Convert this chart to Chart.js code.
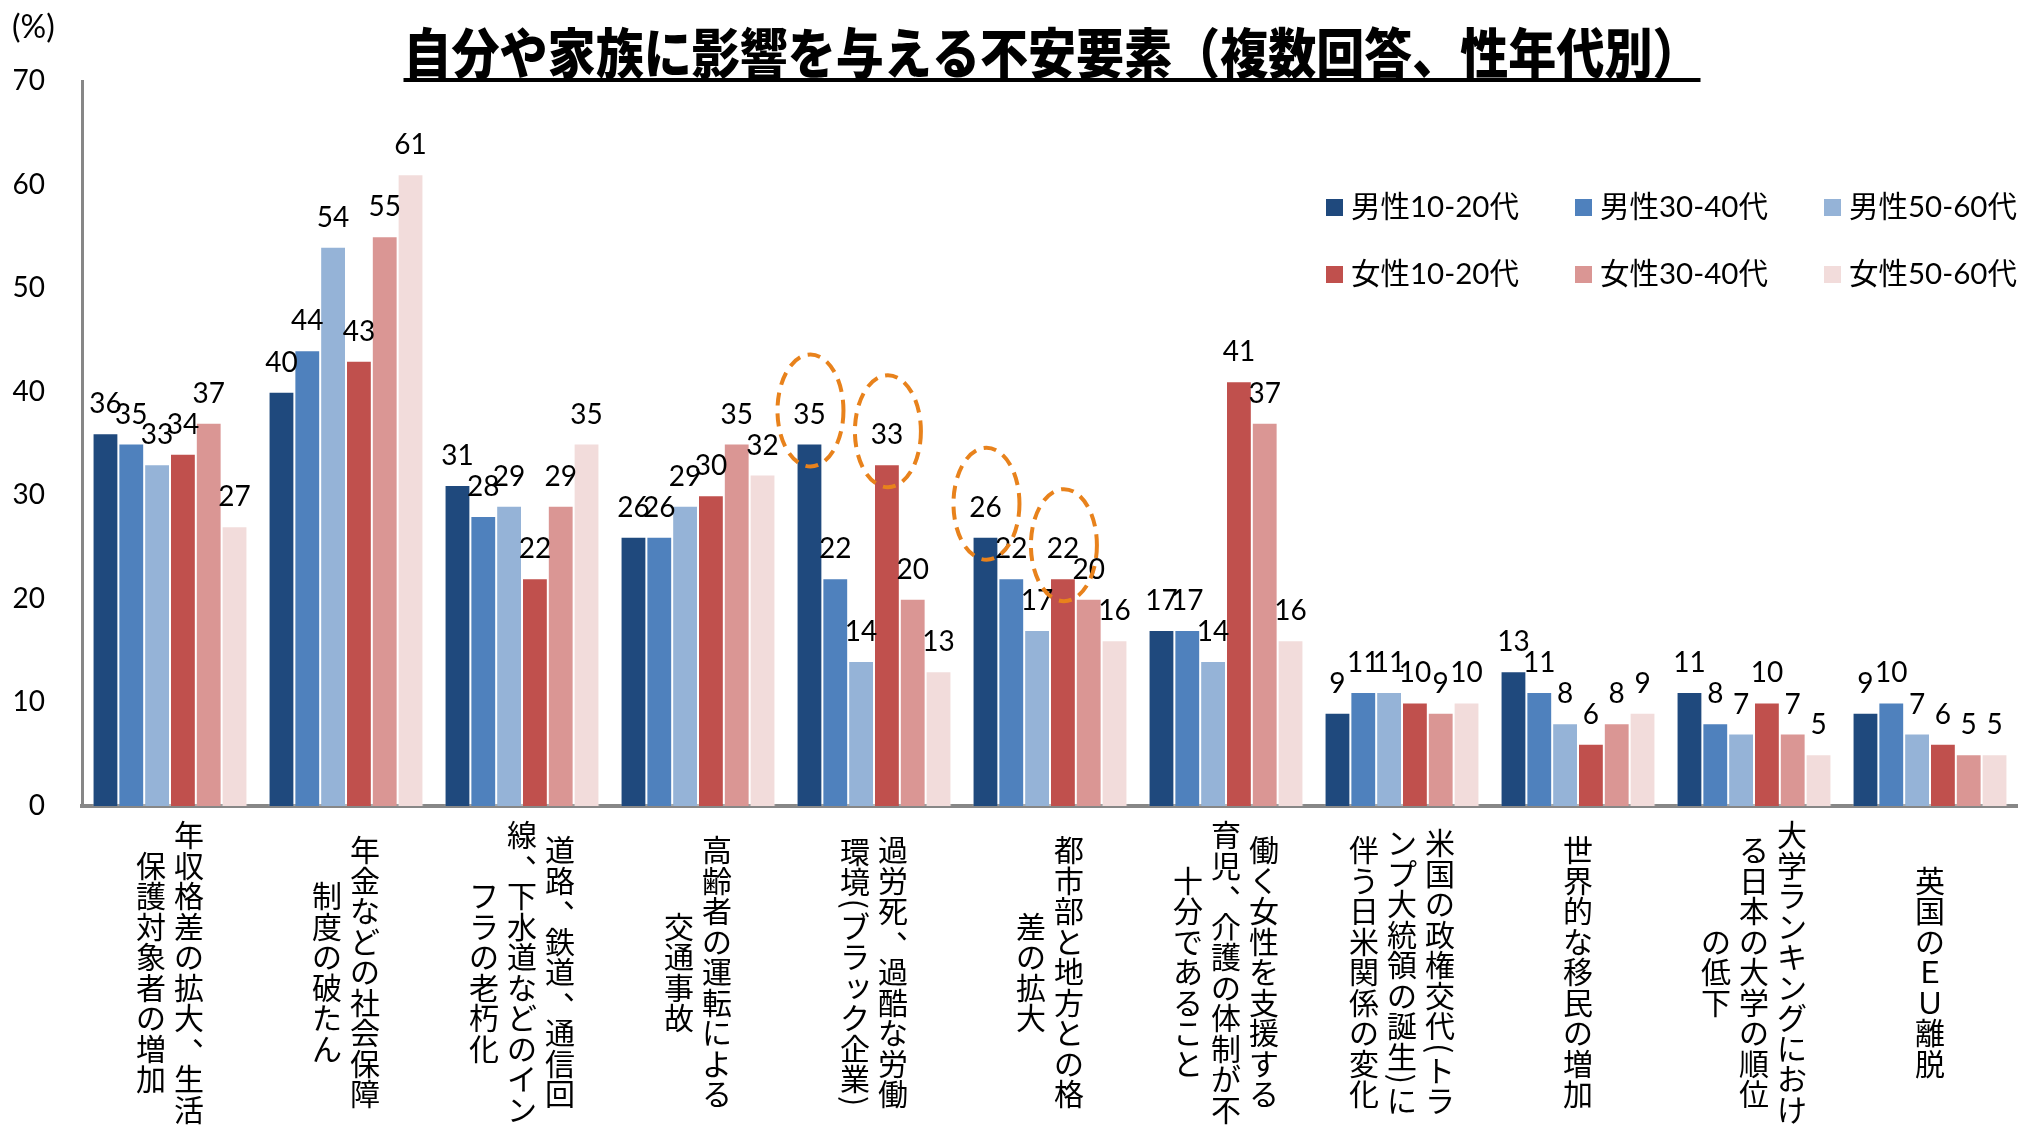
<!DOCTYPE html>
<html lang="ja">
<head>
<meta charset="utf-8">
<title>自分や家族に影響を与える不安要素</title>
<script src="https://cdn.jsdelivr.net/npm/chart.js@4.4.1/dist/chart.umd.min.js"></script>
<style>
  html, body { margin: 0; padding: 0; background: #fff; }
  #anxietyChart { display: block; }
</style>
</head>
<body>
<canvas id="anxietyChart" width="2018" height="1131"></canvas>
<script>
const chartTitle = '自分や家族に影響を与える不安要素（複数回答、性年代別）';
const unitLabel = '(%)';

// category labels, one string per vertical column (first column is drawn rightmost)
const categories = [
  ['年収格差の拡大、生活', '保護対象者の増加'],
  ['年金などの社会保障', '制度の破たん'],
  ['道路、鉄道、通信回', '線、下水道などのイン', 'フラの老朽化'],
  ['高齢者の運転による', '交通事故'],
  ['過労死、過酷な労働', '環境(ブラック企業)'],
  ['都市部と地方との格', '差の拡大'],
  ['働く女性を支援する', '育児、介護の体制が不', '十分であること'],
  ['米国の政権交代(トラ', 'ンプ大統領の誕生)に', '伴う日米関係の変化'],
  ['世界的な移民の増加'],
  ['大学ランキングにおけ', 'る日本の大学の順位', 'の低下'],
  ['英国のＥＵ離脱']
];

const seriesNames = ['男性10-20代', '男性30-40代', '男性50-60代', '女性10-20代', '女性30-40代', '女性50-60代'];
const seriesColors = ['#1F497D', '#4F81BD', '#95B3D7', '#C0504D', '#DA9694', '#F2DCDB'];

const male1020   = [36, 40, 31, 26, 35, 26, 17,  9, 13, 11,  9];
const male3040   = [35, 44, 28, 26, 22, 22, 17, 11, 11,  8, 10];
const male5060   = [33, 54, 29, 29, 14, 17, 14, 11,  8,  7,  7];
const female1020 = [34, 43, 22, 30, 33, 22, 41, 10,  6, 10,  6];
const female3040 = [37, 55, 29, 35, 20, 20, 37,  9,  8,  7,  5];
const female5060 = [27, 61, 35, 32, 13, 16, 16, 10,  9,  5,  5];

const yTicks = [0, 10, 20, 30, 40, 50, 60, 70];

// bars ringed with a dashed orange ellipse: [category index, series index]
const circledBars = [[4, 0], [4, 3], [5, 0], [5, 3]];

const seriesValues = [male1020, male3040, male5060, female1020, female3040, female5060];
const numFont = "Lato, 'Noto Sans CJK JP', sans-serif";
const jpFont = "'Noto Sans CJK JP', sans-serif";

// half-width brackets get turned sideways when set vertically
const rotated = new Set(['(', ')']);
const smallKana = new Set(['ッ', 'ャ', 'ュ', 'ョ', 'ァ', 'ィ', 'ゥ', 'ェ', 'ォ', 'っ', 'ゃ', 'ゅ', 'ょ']);

function drawVerticalText(ctx, text, x, yMid, size, advance) {
  const chars = Array.from(text);
  const steps = chars.map(ch => rotated.has(ch) ? ctx.measureText(ch).width + 4 : advance);
  const total = steps.reduce((a, b) => a + b, 0);
  let y = yMid - total / 2;
  chars.forEach((ch, i) => {
    const cy = y + steps[i] / 2;
    if (rotated.has(ch)) {
      ctx.save();
      ctx.translate(x, cy);
      ctx.rotate(Math.PI / 2);
      ctx.fillText(ch, 0, 0);
      ctx.restore();
    } else if (ch === '、') {
      ctx.fillText(ch, x + size * 0.6, cy - size * 0.5);
    } else if (smallKana.has(ch)) {
      ctx.fillText(ch, x + size * 0.1, cy - size * 0.1);
    } else {
      ctx.fillText(ch, x, cy);
    }
    y += steps[i];
  });
}

const decorations = {
  id: 'decorations',
  afterDatasetsDraw(chart) {
    const ctx = chart.ctx;
    ctx.save();
    // value labels above each bar
    ctx.font = '28px ' + numFont;
    ctx.fillStyle = '#000';
    ctx.textAlign = 'center';
    ctx.textBaseline = 'middle';
    chart.data.datasets.forEach((ds, i) => {
      chart.getDatasetMeta(i).data.forEach((bar, j) => {
        ctx.fillText(String(ds.data[j]), bar.x, bar.y - 29);
      });
    });
    // dashed rings
    ctx.strokeStyle = '#E8821C';
    ctx.lineWidth = 4;
    ctx.setLineDash([13, 8]);
    circledBars.forEach(([cat, s]) => {
      const bar = chart.getDatasetMeta(s).data[cat];
      ctx.beginPath();
      ctx.ellipse(bar.x + 1, bar.y - 33, 33, 56, 0, 0, Math.PI * 2);
      ctx.stroke();
    });
    ctx.restore();
  },
  afterDraw(chart) {
    const ctx = chart.ctx;
    const area = chart.chartArea;
    ctx.save();
    ctx.fillStyle = '#000';

    // title, squeezed horizontally, with underline
    ctx.font = "900 54px " + jpFont;
    ctx.textAlign = 'center';
    ctx.textBaseline = 'middle';
    const tx = 1052;
    const targetWidth = 1297;
    const rawWidth = ctx.measureText(chartTitle).width;
    const squeeze = Math.min(1, targetWidth / rawWidth);
    ctx.save();
    ctx.translate(tx, 53);
    ctx.scale(squeeze, 1);
    ctx.fillText(chartTitle, 0, 0);
    ctx.restore();
    const tw = rawWidth * squeeze;
    ctx.fillRect(tx - tw / 2, 78, tw, 4);

    // unit label
    ctx.font = '32px ' + numFont;
    ctx.textAlign = 'left';
    ctx.fillText(unitLabel, 12, 28);

    // legend, three per row
    ctx.font = '29.5px ' + numFont;
    const lx = area.right - 692;
    const ly = area.top + 126;
    seriesNames.forEach((name, k) => {
      const sx = lx + (k % 3) * 249;
      const sy = ly + Math.floor(k / 3) * 67;
      ctx.fillStyle = seriesColors[k];
      ctx.fillRect(sx, sy - 8, 17, 17);
      ctx.fillStyle = '#000';
      ctx.fillText(name, sx + 25, sy);
    });

    // vertical category labels under the x axis
    const xScale = chart.scales.x;
    ctx.font = '30px ' + jpFont;
    ctx.textAlign = 'center';
    const colGap = 38;
    const yMid = area.bottom + 166;
    categories.forEach((cols, i) => {
      const cx = xScale.getPixelForTick(i);
      cols.forEach((col, c) => {
        const x = cx + ((cols.length - 1) / 2 - c) * colGap;
        drawVerticalText(ctx, col, x, yMid, 30, 30.5);
      });
    });
    ctx.restore();
  }
};

new Chart(document.getElementById('anxietyChart'), {
  type: 'bar',
  data: {
    labels: categories.map(c => c.join('')),
    datasets: seriesNames.map((name, i) => ({
      label: name,
      data: seriesValues[i],
      backgroundColor: seriesColors[i],
      borderColor: 'rgba(255, 255, 255, 0.4)',
      borderWidth: 1,
      categoryPercentage: 0.88,
      barPercentage: 1.0
    }))
  },
  options: {
    responsive: false,
    animation: false,
    devicePixelRatio: 1,
    layout: { padding: { top: 81, right: 0, bottom: 0, left: 0 } },
    plugins: {
      legend: { display: false },
      title: { display: false },
      tooltip: { enabled: false }
    },
    scales: {
      x: {
        grid: { display: false },
        border: { display: true, color: '#878787', width: 4 },
        ticks: { display: false },
        afterFit(scale) { scale.height = 325; }
      },
      y: {
        min: yTicks[0],
        max: yTicks[yTicks.length - 1],
        grid: { display: false, drawTicks: false },
        border: { display: true, color: '#878787', width: 3 },
        ticks: {
          stepSize: yTicks[1] - yTicks[0],
          padding: 37,
          color: '#000',
          font: { size: 28, family: numFont }
        },
        afterFit(scale) { scale.width = 82; }
      }
    }
  },
  plugins: [decorations]
});
</script>
</body>
</html>
